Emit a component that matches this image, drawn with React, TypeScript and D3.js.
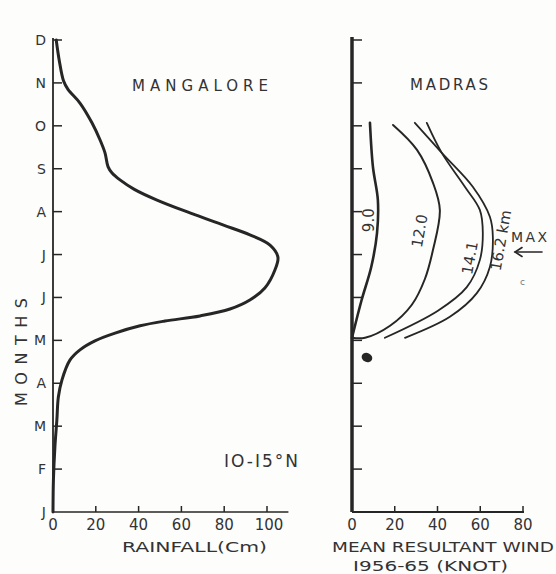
import React from "react";
import * as d3 from "d3";

// ---------- DATA ----------
const MONTH_LABELS = ["J", "F", "M", "A", "M", "J", "J", "A", "S", "O", "N", "D"];
const RAIN_TICKS = [0, 20, 40, 60, 80, 100];
const WIND_TICKS = [0, 20, 40, 60, 80];

// Mangalore rainfall (month position: 0 = Jan ... 11 = Dec), cm
const MANGALORE_MONTH = [0, 0.75, 1.52, 2.14, 2.68, 3.08, 3.54, 3.78, 3.99, 4.17, 4.34, 4.45, 4.57, 4.73, 4.94, 5.22, 5.64, 5.94, 6.22, 6.46, 6.69, 6.97, 7.27, 7.52, 7.74, 7.9, 8.05, 8.37, 8.67, 9.07, 9.53, 9.85, 10.05, 10.5, 11];
const MANGALORE_RAIN = [0, 0.2, 0.9, 1.8, 2.5, 4.2, 7.9, 12.6, 19.6, 29, 40.7, 52.3, 68.7, 82.7, 92, 99, 103.7, 105.1, 101.4, 92, 79.4, 64, 48.6, 38, 31.3, 27.6, 25.7, 24.3, 22, 18.2, 12.6, 7, 4.9, 3, 1.5];

// Madras mean resultant wind (knot) at levels
const MADRAS_LEVELS = ["9.0", "12.0", "14.1", "16.2 km"];
const MADRAS_9_MONTH = [4.06, 4.94, 5.71, 6.5, 7.27, 8.04, 9.07];
const MADRAS_9_WIND = [0, 4.5, 9, 11.7, 12.1, 9.8, 8.4];
const MADRAS_12_MONTH = [4.06, 4.06, 4.34, 4.83, 5.43, 6.11, 7.04, 7.67, 8.44, 9.02];
const MADRAS_12_WIND = [0, 6.1, 17.8, 28.0, 34.1, 37.9, 41.1, 37.9, 30.4, 19.2];
const MADRAS_14_MONTH = [4.06, 4.69, 5.24, 5.87, 6.5, 7.04, 7.58, 8.37, 9.07];
const MADRAS_14_WIND = [15.4, 40.2, 53.7, 59.8, 61.2, 59.8, 52.8, 42, 35];
const MADRAS_16_MONTH = [4.06, 4.55, 5.1, 5.71, 6.41, 6.88, 7.58, 8.37, 9.07];
const MADRAS_16_WIND = [24.8, 45.8, 58.4, 64.5, 65.9, 64.5, 56.5, 42, 29.4];

// ---------- LAYOUT ----------
const W = 556;
const H = 574;
const INK = "#262626";
const TXT = "#333";
const FONT = "'DejaVu Sans', 'Liberation Sans', sans-serif";

const yMonth = d3.scaleLinear().domain([0, 11]).range([512, 40]);
const xRain = d3.scaleLinear().domain([0, 100]).range([53, 267]);
const xWind = d3.scaleLinear().domain([0, 80]).range([352, 523]);

function zip(ms: number[], vs: number[]): [number, number][] {
  return ms.map((m, i) => [vs[i], m]);
}

export default function App() {
  const rainLine = d3
    .line<[number, number]>()
    .x((d) => xRain(d[0]))
    .y((d) => yMonth(d[1]))
    .curve(d3.curveCatmullRom.alpha(0.5));
  const windLine = d3
    .line<[number, number]>()
    .x((d) => xWind(d[0]))
    .y((d) => yMonth(d[1]))
    .curve(d3.curveCatmullRom.alpha(0.5));

  const madras = [
    { name: MADRAS_LEVELS[0], pts: zip(MADRAS_9_MONTH, MADRAS_9_WIND), w: 2.6 },
    { name: MADRAS_LEVELS[1], pts: zip(MADRAS_12_MONTH, MADRAS_12_WIND), w: 2 },
    { name: MADRAS_LEVELS[2], pts: zip(MADRAS_14_MONTH, MADRAS_14_WIND), w: 1.8 },
    { name: MADRAS_LEVELS[3], pts: zip(MADRAS_16_MONTH, MADRAS_16_WIND), w: 1.8 },
  ];

  const monthIdx = d3.range(12);
  const axisY0 = yMonth(0);

  return (
    <svg
      width={W}
      height={H}
      viewBox={`0 0 ${W} ${H}`}
      style={{ position: "absolute", left: 0, top: 0, background: "#fdfdfc" }}
      fontFamily={FONT}
      fill={TXT}
    >
      <rect x={0} y={0} width={W} height={H} fill="#fdfdfc" />

      {/* ---------- Left panel: Mangalore ---------- */}
      <line x1={xRain(0)} x2={xRain(0)} y1={yMonth(11) - 2} y2={axisY0} stroke={INK} strokeWidth={1.8} />
      <line x1={xRain(0)} x2={xRain(110)} y1={axisY0} y2={axisY0} stroke={INK} strokeWidth={1.6} />
      {monthIdx.slice(1).map((i) => (
        <line key={"lt" + i} x1={xRain(0)} x2={xRain(0) + 9} y1={yMonth(i)} y2={yMonth(i)} stroke={INK} strokeWidth={1.5} />
      ))}
      {monthIdx.map((i) => (
        <text key={"ll" + i} x={46} y={yMonth(i)} dy="0.36em" fontSize={14} textAnchor="end">
          {MONTH_LABELS[i]}
        </text>
      ))}
      {RAIN_TICKS.filter((t) => t > 0).map((t) => (
        <line key={"rt" + t} x1={xRain(t)} x2={xRain(t)} y1={axisY0} y2={axisY0 - 6} stroke={INK} strokeWidth={1.5} />
      ))}
      {RAIN_TICKS.map((t) => (
        <text key={"rl" + t} x={xRain(t) + (t === 100 ? 2 : 0)} y={530} fontSize={15} textAnchor="middle">
          {t}
        </text>
      ))}
      <text x={122} y={552} fontSize={14.5} textLength={145} lengthAdjust="spacingAndGlyphs">
        RAINFALL(Cm)
      </text>
      <text
        transform={`translate(27,352) rotate(-90)`}
        fontSize={16}
        textAnchor="middle"
        textLength={108}
        lengthAdjust="spacing"
      >
        MONTHS
      </text>
      <text x={132} y={91} fontSize={15} textLength={136} lengthAdjust="spacing">
        MANGALORE
      </text>
      <text x={224} y={467} fontSize={17} textLength={74} lengthAdjust="spacing">
        IO-I5°N
      </text>
      <path
        d={rainLine(zip(MANGALORE_MONTH, MANGALORE_RAIN)) || ""}
        fill="none"
        stroke={INK}
        strokeWidth={3}
        strokeLinecap="round"
        strokeLinejoin="round"
      />

      {/* ---------- Right panel: Madras ---------- */}
      <line x1={xWind(0)} x2={xWind(0)} y1={yMonth(11) - 3} y2={axisY0} stroke={INK} strokeWidth={3.5} />
      <line x1={xWind(0)} x2={xWind(80) + 1} y1={axisY0} y2={axisY0} stroke={INK} strokeWidth={1.8} />
      {monthIdx.slice(1).map((i) => (
        <line key={"mt" + i} x1={xWind(0)} x2={xWind(0) + 10} y1={yMonth(i)} y2={yMonth(i)} stroke={INK} strokeWidth={1.5} />
      ))}
      {WIND_TICKS.filter((t) => t > 0).map((t) => (
        <line key={"wt" + t} x1={xWind(t)} x2={xWind(t)} y1={axisY0} y2={axisY0 - 6} stroke={INK} strokeWidth={1.5} />
      ))}
      {WIND_TICKS.map((t) => (
        <text key={"wl" + t} x={xWind(t)} y={530} fontSize={15} textAnchor="middle">
          {t}
        </text>
      ))}
      <text x={332} y={552} fontSize={13.5} textLength={222} lengthAdjust="spacingAndGlyphs">
        MEAN RESULTANT WIND
      </text>
      <text x={353} y={571} fontSize={14} textLength={155} lengthAdjust="spacingAndGlyphs">
        I956-65 (KNOT)
      </text>
      <text x={410} y={90} fontSize={15} textLength={78} lengthAdjust="spacing">
        MADRAS
      </text>

      {madras.map((s) => (
        <path key={s.name} d={windLine(s.pts) || ""} fill="none" stroke={INK} strokeWidth={s.w} strokeLinecap="round" />
      ))}

      {/* curve labels */}
      <text transform={`translate(${xWind(7.6)},${yMonth(6.8)}) rotate(-90)`} fontSize={15} textAnchor="middle" dy="0.36em">
        {MADRAS_LEVELS[0]}
      </text>
      <text transform={`translate(${xWind(31.5)},${yMonth(6.55)}) rotate(-80)`} fontSize={15} textAnchor="middle" dy="0.36em">
        {MADRAS_LEVELS[1]}
      </text>
      <text transform={`translate(${xWind(55)},${yMonth(5.92)}) rotate(-80)`} fontSize={15} textAnchor="middle" dy="0.36em">
        {MADRAS_LEVELS[2]}
      </text>
      <text transform={`translate(${xWind(69.5)},${yMonth(6.33)}) rotate(-80)`} fontSize={15} textAnchor="middle" dy="0.36em">
        {MADRAS_LEVELS[3]}
      </text>
      <text x={511} y={242} fontSize={14} textLength={36} lengthAdjust="spacing">
        MAX
      </text>
      <g stroke={INK} strokeWidth={1.6} fill="none" strokeLinecap="round">
        <line x1={542} x2={515} y1={252} y2={252} />
        <polyline points="522,247.5 515,252 522,256.5" />
      </g>
      <text x={520} y={285} fontSize={9} fill="#777">c</text>
      {/* ink blot */}
      <ellipse cx={xWind(7)} cy={yMonth(3.6)} rx={5.5} ry={4.5} fill={INK} transform={`rotate(25 ${xWind(7)} ${yMonth(3.6)})`} />
    </svg>
  );
}
